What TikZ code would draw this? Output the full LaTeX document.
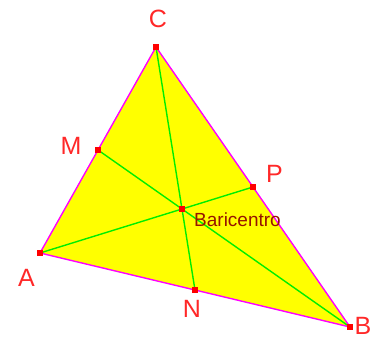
\documentclass[tikz,border=0pt]{standalone}
\usepackage{fontspec}
\setmainfont{Liberation Sans}
\usetikzlibrary{calc}
\definecolor{triyellow}{RGB}{255,255,0}
\definecolor{edgemag}{RGB}{255,0,255}
\definecolor{medgreen}{RGB}{0,238,0}
\definecolor{ptred}{RGB}{255,0,0}
\definecolor{lblred}{RGB}{255,40,40}
\definecolor{barired}{RGB}{150,20,0}
\tikzset{
  pt/.style={rectangle, fill=ptred, minimum size=5.5pt, inner sep=0pt},
  lbl/.style={text=lblred, inner sep=0pt, font=\fontsize{25}{25}\selectfont},
  edge/.style={draw=edgemag, line width=1.4pt, line join=round},
  median/.style={draw=medgreen, line width=1.4pt}
}
\begin{document}
\begin{tikzpicture}[x=1pt,y=-1pt]
\useasboundingbox (0,0) rectangle (375,342);
\coordinate (cA) at (40,253);
\coordinate (cB) at (350,327);
\coordinate (cC) at (156,47);
\coordinate (cM) at ($(cA)!0.5!(cC)$);
\coordinate (cP) at ($(cC)!0.5!(cB)$);
\coordinate (cN) at ($(cA)!0.5!(cB)$);
\coordinate (cG) at ($1/3*(cA)+1/3*(cB)+1/3*(cC)$);
\fill[triyellow] (cA) -- (cB) -- (cC) -- cycle;
\draw[edge] (cA) -- (cB) -- (cC) -- cycle;
\draw[median] (cA) -- (cP);
\draw[median] (cC) -- (cN);
\draw[median] (cB) -- (cM);
\node[pt] (A) at (cA) {};
\node[pt] (B) at (cB) {};
\node[pt] (C) at (cC) {};
\node[pt] (M) at (cM) {};
\node[pt] (P) at (cP) {};
\node[pt] (N) at (cN) {};
\node[pt] (G) at (cG) {};
\node[lbl] (lC) at (158,19) {C};
\node[lbl] (lA) at (26.5,277.5) {A};
\node[lbl] (lB) at (363,326) {B};
\node[lbl] (lM) at (71,145.5) {M};
\node[lbl] (lP) at (274.5,173.5) {P};
\node[lbl] (lN) at (192,309) {N};
\node[text=barired, inner sep=0pt, anchor=base west, font=\fontsize{19}{19}\selectfont] (lG) at (194,226.5) {Baricentro};
\end{tikzpicture}
\end{document}
